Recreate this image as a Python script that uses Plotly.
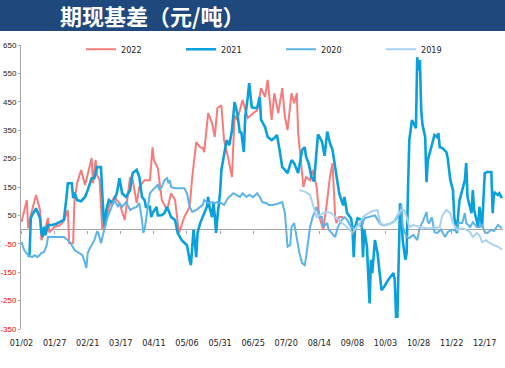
import plotly.graph_objects as go

# x = day of year (Jan 1 = 0, leap-year calendar), y = basis (元/吨)
s2022 = [(1, 27), (5, 104), (6, 5), (8, 51), (12, 122), (15, 69), (16, -37), (18, -12), (21, 41), (22, -10),
         (26, 10), (30, 15), (33, 30), (36, 69), (37, -47), (40, -47), (41, 104), (43, 163), (46, 210), (49, 157),
         (54, 252), (55, 163), (57, 245), (58, 192), (60, 174), (62, 0), (65, 44), (67, 80), (71, 115), (75, 93),
         (79, 34), (83, 185), (85, 174), (88, 93), (90, 150), (94, 174), (98, 174), (100, 290), (101, 245), (104, 216),
         (107, 104), (111, 69), (114, 128), (117, 104), (120, -12), (124, 44), (128, 80), (130, 185), (133, 308),
         (136, 290), (138, 287), (139, 273), (142, 410), (145, 375), (147, 326), (149, 428), (152, 438), (154, 315),
         (157, 256), (160, 185), (162, 403), (164, 386), (168, 456), (172, 393), (176, 410), (179, 420), (182, 498),
         (185, 467), (187, 527), (190, 386), (192, 480), (195, 410), (198, 498), (200, 397), (202, 350), (205, 480),
         (207, 445), (209, 480), (210, 340), (213, 199), (214, 150), (216, 185), (219, 174), (221, 210), (224, 150),
         (226, 44), (229, 0), (232, 104), (234, 185), (236, 234), (238, 44), (239, 23), (241, 44), (244, 44)]

s2021 = [(6, -90), (7, -95), (8, 40), (9, 51), (12, 75), (14, 55), (15, 40), (16, -10), (17, -26), (18, 10),
         (19, -20), (21, 16), (24, 16), (27, 20), (30, 26), (32, 30), (33, 34), (35, 115), (36, 163), (39, 163),
         (40, 111), (41, 130), (43, 104), (46, 100), (49, 115), (51, 139), (54, 181), (56, 181), (58, 220), (61, 220),
         (62, 104), (63, 40), (64, 8), (65, 69), (67, 104), (70, 93), (73, 128), (75, 181), (77, 128), (80, 115),
         (83, 139), (85, 199), (88, 210), (90, 185), (92, 115), (94, 104), (95, 80), (98, 80), (99, 44), (100, 58),
         (103, 80), (104, 50), (107, 51), (109, 58), (111, 80), (114, 44), (117, 34), (119, -12), (122, -37),
         (124, -47), (126, -55), (128, -107), (129, -125), (130, -60), (131, 0), (133, -97), (134, -12), (136, 23),
         (138, 44), (141, 80), (142, 115), (143, 80), (145, 44), (146, 93), (147, 51), (148, -12), (149, 44),
         (151, 128), (152, 210), (154, 256), (156, 315), (158, 297), (160, 350), (162, 449), (164, 410), (166, 340),
         (167, 345), (169, 273), (170, 397), (172, 467), (173, 516), (175, 431), (177, 428), (179, 428), (181, 467),
         (182, 386), (185, 361), (187, 326), (190, 315), (192, 322), (194, 333), (196, 280), (198, 220), (200, 210),
         (202, 199), (205, 245), (207, 234), (210, 199), (213, 280), (215, 290), (216, 256), (218, 234), (220, 185),
         (222, 170), (225, 335), (228, 310), (230, 260), (232, 345), (234, 305), (236, 280), (239, 185), (241, 128),
         (244, 85), (245, 115), (247, 58), (250, 40), (251, 9), (252, -97), (253, 8), (255, 40), (258, 34),
         (259, -97), (260, 0), (262, -60), (264, -260), (265, -106), (266, -153), (268, -37), (269, -60), (270, -83),
         (273, -213), (275, -201), (278, -177), (281, -160), (282, -153), (283, -177), (284, -307), (285, -307),
         (286, -37), (287, 93), (288, 58), (289, -37), (291, -106), (292, -83), (293, 139), (294, 315), (296, 386),
         (297, 375), (299, 357), (300, 607), (301, 560), (302, 597), (303, 420), (304, 368), (306, 326), (307, 167),
         (308, 245), (311, 297), (313, 333), (315, 326), (316, 340), (317, 290), (319, 287), (322, 273), (323, 252),
         (325, 174), (327, 139), (328, 44), (330, -12), (331, 58), (332, 104), (334, 139), (335, 157), (336, 174),
         (337, 234), (338, 115), (341, 58), (342, 139), (343, 69), (346, 9), (347, 80), (349, 9), (351, 199),
         (353, 203), (356, 203), (357, 58), (358, 132), (361, 122), (362, 128), (364, 111)]

s2020 = [(1, -44), (3, -72), (6, -90), (9, -97), (11, -90), (13, -97), (16, -83), (18, -79), (20, -55), (21, -26),
         (24, -26), (30, -26), (33, -26), (36, -37), (39, -55), (41, -72), (45, -83), (47, -90), (49, -118),
         (50, -135), (51, -83), (52, -72), (56, -37), (58, -8), (59, -10), (60, -30), (61, -48), (64, 9), (66, 44),
         (69, 80), (71, 104), (74, 80), (75, 93), (77, 80), (80, 97), (83, 69), (85, 75), (88, 80), (90, 93),
         (92, 34), (93, -12), (94, 0), (96, 58), (98, 128), (100, 139), (104, 157), (105, 140), (107, 150),
         (109, 174), (111, 181), (112, 163), (113, 174), (114, 150), (117, 146), (120, 146), (124, 146), (126, 128),
         (128, 80), (130, 62), (133, 69), (136, 80), (138, 87), (139, 104), (142, 93), (145, 97), (147, 93),
         (149, 97), (152, 93), (154, 87), (157, 111), (161, 128), (163, 122), (166, 115), (168, 128), (171, 115),
         (173, 122), (176, 115), (179, 128), (181, 115), (183, 97), (186, 93), (188, 87), (191, 87), (194, 90),
         (198, 97), (200, 58), (201, 9), (202, -60), (204, -55), (205, 9), (207, 23), (209, -37), (210, -60),
         (211, -83), (213, -118), (215, -125), (216, -97), (217, -60), (219, 9), (221, 44), (224, 80), (226, 44),
         (228, 44), (229, 9), (232, 23), (233, 0), (235, -12), (238, -26), (240, 9), (243, 34), (245, 44), (247, 34),
         (250, 9), (253, 0), (255, 20), (258, 10), (260, 40), (264, 45), (268, 50), (272, 20), (275, 15), (279, 20),
         (283, 30), (287, 55), (288, 87), (289, 10), (292, -26), (294, -30), (297, -19), (300, -37), (302, 9),
         (304, 26), (307, 62), (308, 26), (309, 23), (311, 44), (312, 20), (313, -9), (315, -12), (318, 0),
         (321, -26), (323, -9), (326, 0), (330, -5), (331, 23), (334, 23), (336, 58), (337, 23), (340, 9), (342, 26),
         (345, 9), (347, 9), (349, 16), (351, -9), (353, -12), (356, 0), (358, -5), (361, 16), (364, 5)]

s2019 = [(211, 139), (216, 132), (219, 122), (221, 87), (224, 44), (226, 50), (229, 58), (232, 62), (235, 58),
         (239, 41), (243, 26), (245, 16), (249, 0), (251, -12), (254, 9), (256, 16), (259, 44), (262, 55), (266, 65),
         (270, 69), (272, 23), (275, 16), (279, 20), (282, 26), (285, 51), (288, 69), (290, 69), (292, 44), (294, 9),
         (297, 16), (302, 9), (307, 5), (312, 5), (317, 9), (319, 51), (322, 69), (325, 58), (327, 23), (330, 0),
         (334, 5), (337, 0), (340, -9), (342, -26), (345, -12), (347, -20), (349, -44), (352, -37), (355, -48),
         (358, -55), (361, -60), (364, -70)]

series_names = ["2022", "2021", "2020", "2019"]
series_data = [s2022, s2021, s2020, s2019]
series_colors = ["#F87B7B", "#0AA0DC", "#5CB3E6", "#A9D2F2"]
series_widths = [2, 2.6, 2, 2]

x_tickvals = [1, 26, 51, 76, 101, 126, 151, 176, 201, 226, 251, 276, 301, 326, 351]
x_ticktext = ["01/02", "01/27", "02/21", "03/17", "04/11", "05/06", "05/31", "06/25", "07/20",
              "08/14", "09/08", "10/03", "10/28", "11/22", "12/17"]
y_tickvals = [-350, -250, -150, -50, 50, 150, 250, 350, 450, 550, 650]

title_text = "期现基差（元/吨）"

y_ticktext = [(f'<span style="color:#FF0000">{v}</span>' if v < 0 else str(v)) for v in y_tickvals]

FONT = "Liberation Sans Narrow, Arial Narrow, DejaVu Sans Condensed, sans-serif"
YFONT = "Liberation Sans Narrow, Arial Narrow, Liberation Sans, sans-serif"

W, H = 505, 368
ML, MR, MT, MB = 21, 2, 45, 39
PW, PH = W - ML - MR, H - MT - MB

fig = go.Figure()
for name, data, color, w in zip(series_names, series_data, series_colors, series_widths):
    fig.add_trace(go.Scatter(
        x=[p[0] for p in data], y=[p[1] for p in data], name=name, mode="lines",
        line=dict(color=color, width=w), hoverinfo="skip"))

# helper axis for the tick marks on the zero line
fig.add_trace(go.Scatter(x=[None], y=[None], xaxis="x2", showlegend=False, hoverinfo="skip"))

xr = [0.6, 364.8]
fig.update_layout(
    width=W, height=H,
    margin=dict(l=ML, r=MR, t=MT, b=MB, autoexpand=False),
    paper_bgcolor="white", plot_bgcolor="white",
    title=dict(text=f"<b>{title_text}</b>", x=60 / W, xanchor="left", xref="container",
               y=1 - 17 / H, yanchor="middle", yref="container",
               font=dict(family="Noto Sans CJK SC", size=22, color="white")),
    xaxis=dict(range=xr, tickvals=x_tickvals, ticktext=x_ticktext, showgrid=False, zeroline=False,
               showline=False, ticks="outside", ticklen=5, tickcolor="rgba(0,0,0,0)", automargin=False,
               tickfont=dict(family=FONT, size=9, color="#222222")),
    xaxis2=dict(range=xr, overlaying="x", anchor="free", position=0.35, tickvals=x_tickvals,
                showticklabels=False, showgrid=False, zeroline=False, showline=False, automargin=False,
                ticks="outside", ticklen=3, tickcolor="#A6A6A6"),
    yaxis=dict(range=[-350, 650], tickvals=y_tickvals, ticktext=y_ticktext, showgrid=False,
               zeroline=True, zerolinecolor="#A6A6A6", zerolinewidth=1, automargin=False,
               showline=True, linecolor="#A6A6A6", linewidth=1, ticks="outside", ticklen=2,
               tickcolor="#A6A6A6", tickfont=dict(family=YFONT, size=8, color="#222222")),
    legend=dict(orientation="h", x=60 / PW, xanchor="left", y=0.985, yanchor="middle",
                entrywidth=55, entrywidthmode="pixels", bgcolor="rgba(0,0,0,0)",
                font=dict(family=FONT, size=9, color="#222222"), itemwidth=30),
    shapes=[dict(type="rect", xref="paper", yref="paper", x0=-ML / PW, x1=(W - ML) / PW,
                 y0=(PH + MT - 31) / PH, y1=(PH + MT) / PH, fillcolor="#1F497D",
                 line=dict(width=0), layer="below")],
    showlegend=True,
)

fig.write_html("out.html", config={"displayModeBar": False},
               post_script="document.body.style.margin='0';document.body.style.overflow='hidden';")
